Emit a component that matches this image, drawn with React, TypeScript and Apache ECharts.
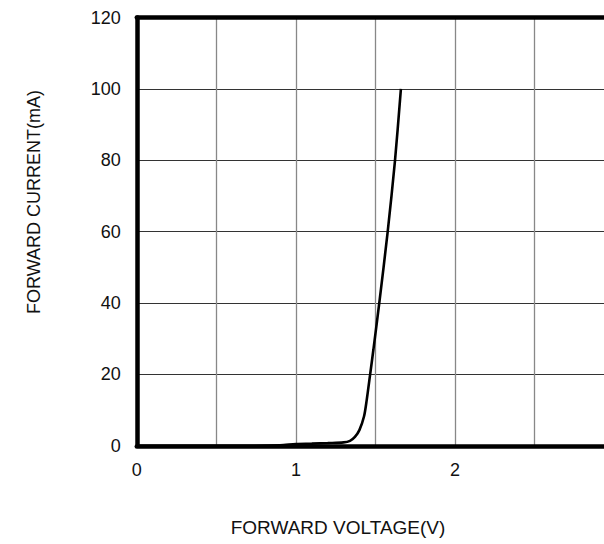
import React, { useEffect, useRef } from "react";
import * as echarts from "echarts";

const voltage = [0, 0.6, 0.9, 1.0, 1.1, 1.2, 1.3, 1.34, 1.371, 1.399, 1.428, 1.445, 1.466, 1.487, 1.524, 1.577, 1.623, 1.66];
const current = [0, 0, 0.15, 0.5, 0.6, 0.75, 0.95, 1.4, 2.5, 4.4, 8.2, 12.8, 19.8, 26.9, 40, 60, 80, 100];
const xTitle = "FORWARD VOLTAGE(V)";
const yTitle = "FORWARD CURRENT(mA)";

const FONT = "'Liberation Sans', Arial, sans-serif";

export default function App() {
  const ref = useRef<HTMLDivElement>(null);
  useEffect(() => {
    if (!ref.current) return;
    const chart = echarts.init(ref.current, undefined, { renderer: "svg" });
    const data = voltage.map((v, i) => [v, current[i]]);
    chart.setOption({
      animation: false,
      backgroundColor: "#ffffff",
      grid: {
        left: 136.8,
        top: 17.5,
        bottom: 98.2,
        right: 5.9,
        containLabel: false,
        outerBoundsMode: "none",
      },
      xAxis: [
        {
          type: "value",
          min: 0,
          max: 3,
          interval: 0.5,
          position: "bottom",
          axisLine: { show: true, onZero: false, lineStyle: { color: "#000", width: 4.5 } },
          axisTick: { show: false },
          axisLabel: {
            margin: 15,
            fontSize: 18,
            fontFamily: FONT,
            color: "#111",
            formatter: (v: number) => (Math.abs(v - Math.round(v)) < 1e-6 && v < 2.9 ? String(Math.round(v)) : ""),
          },
          splitLine: { show: true, lineStyle: { color: "#888", width: 1.3 } },
        },
        {
          type: "value",
          min: 0,
          max: 3,
          interval: 0.5,
          position: "top",
          axisLine: { show: true, onZero: false, lineStyle: { color: "#000", width: 4.5 } },
          axisTick: { show: false },
          axisLabel: { show: false },
          splitLine: { show: false },
        },
      ],
      yAxis: {
        type: "value",
        min: 0,
        max: 120,
        interval: 20,
        axisLine: { show: true, onZero: false, lineStyle: { color: "#000", width: 4.5 } },
        axisTick: { show: false },
        axisLabel: { margin: 16, fontSize: 18, fontFamily: FONT, color: "#111" },
        splitLine: { show: true, lineStyle: { color: "#333", width: 1 } },
      },
      series: [
        {
          type: "line",
          data,
          xAxisIndex: 0,
          showSymbol: false,
          symbol: "none",
          smooth: 0.3,
          lineStyle: { color: "#000", width: 2.6 },
          z: 5,
        },
      ],
      graphic: [
        {
          type: "text",
          x: 338,
          y: 527,
          style: {
            text: xTitle,
            fontSize: 19,
            fontFamily: FONT,
            fill: "#111",
            textAlign: "center",
            textVerticalAlign: "middle",
          },
        },
        {
          type: "text",
          x: 34,
          y: 202,
          rotation: Math.PI / 2,
          style: {
            text: yTitle,
            fontSize: 18,
            fontFamily: FONT,
            fill: "#111",
            textAlign: "center",
            textVerticalAlign: "middle",
          },
        },
      ],
    });
    return () => chart.dispose();
  }, []);
  return (
    <div style={{ position: "absolute", left: 0, top: 0, width: 604, height: 544, overflow: "hidden", background: "#fff" }}>
      <div ref={ref} style={{ width: 620, height: 544 }} />
    </div>
  );
}
